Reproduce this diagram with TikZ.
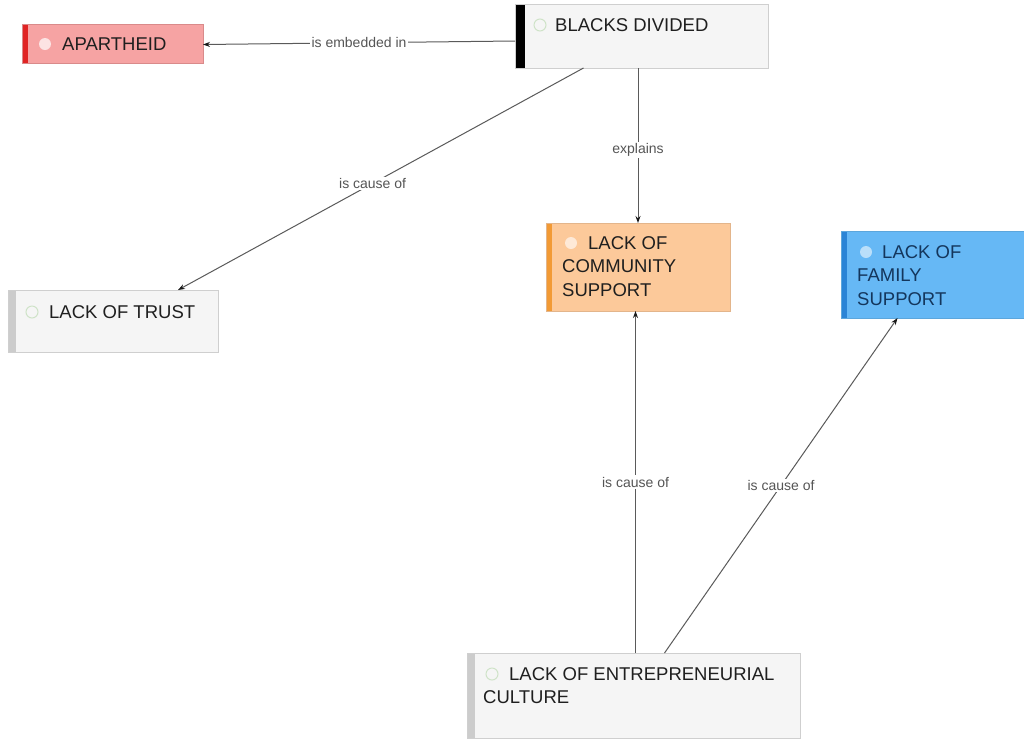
\documentclass[tikz,border=0pt]{standalone}
\usepackage{fontspec}
\setmainfont{Liberation Sans}
\usetikzlibrary{arrows.meta}
\definecolor{apfill}{HTML}{F6A3A3}
\definecolor{apbar}{HTML}{E02424}
\definecolor{apdraw}{HTML}{D98A8A}
\definecolor{cofill}{HTML}{FCC99A}
\definecolor{cobar}{HTML}{F29A35}
\definecolor{fafill}{HTML}{66B8F5}
\definecolor{fabar}{HTML}{2A84D6}
\definecolor{fatext}{HTML}{14365C}
\definecolor{grfill}{HTML}{F5F5F5}
\definecolor{grdraw}{HTML}{CFCFCF}
\definecolor{grbar}{HTML}{CCCCCC}
\definecolor{edgecol}{HTML}{5A5A5A}
\definecolor{tipcol}{HTML}{1A1A1A}
\definecolor{labcol}{HTML}{555555}
\definecolor{dotgreen}{HTML}{CFE3C8}
\begin{document}
\begin{tikzpicture}[x=1pt,y=-1pt,
  box/.style={anchor=north west,inner sep=0pt,outer sep=0pt,line width=1pt},
  bar/.style 2 args={path picture={\fill[#1] (path picture bounding box.north west) rectangle ([xshift=#2]path picture bounding box.south west);}},
  ntext/.style={inner sep=0pt,font=\fontsize{18.5}{23.5}\selectfont,align=left,text=black!88},
  dot/.style={circle,minimum size=12pt,inner sep=0pt},
  edge/.style={draw=edgecol,line width=1pt,-{Stealth[length=7pt,width=5pt,color=tipcol]}},
  elabel/.style={fill=white,inner sep=1.5pt,text=labcol,font=\fontsize{14}{16}\selectfont}]
\useasboundingbox (0,0) rectangle (1024,740);
\fill[white] (0,0) rectangle (1024,740);
% boxes
\node[box,fill=apfill,draw=apdraw,bar={apbar}{6pt},minimum width=181pt,minimum height=39pt] (ap) at (22,24) {};
\node[box,fill=grfill,draw=grdraw,bar={black}{10pt},minimum width=253pt,minimum height=64pt] (bd) at (515,4) {};
\node[box,fill=cofill,draw=cofill!90!black,bar={cobar}{6pt},minimum width=184pt,minimum height=88pt] (co) at (546,223) {};
\node[box,fill=fafill,draw=fafill!90!black,bar={fabar}{6pt},minimum width=183pt,minimum height=87pt] (fa) at (841,231) {};
\node[box,fill=grfill,draw=grdraw,bar={grbar}{8pt},minimum width=210pt,minimum height=62pt] (tr) at (8,290) {};
\node[box,fill=grfill,draw=grdraw,bar={grbar}{8pt},minimum width=333pt,minimum height=85pt] (en) at (467,653) {};
% dots
\node[dot,fill=white!70!apfill] (apdot) at (45,44) {};
\node[dot,draw=dotgreen,line width=1pt] (bddot) at (540,25) {};
\node[dot,fill=white!60!cofill] (codot) at (571,243) {};
\node[dot,fill=white!55!fafill] (fadot) at (866,252) {};
\node[dot,draw=dotgreen,line width=1pt] (trdot) at (32,312) {};
\node[dot,draw=dotgreen,line width=1pt] (endot) at (492,674) {};
% texts
\node[ntext,anchor=west] (aptext) at (62,44) {APARTHEID};
\node[ntext,anchor=west] (bdtext) at (555,25) {BLACKS DIVIDED};
\node[ntext,anchor=north west] (cotext) at (562,236) {\hspace*{26pt}LACK OF\\COMMUNITY\\SUPPORT};
\node[ntext,anchor=north west,text=fatext] (fatext) at (857,245) {\hspace*{25pt}LACK OF\\FAMILY\\SUPPORT};
\node[ntext,anchor=west] (trtext) at (49,312) {LACK OF TRUST};
\node[ntext,anchor=north west] (entext) at (483,667) {\hspace*{26pt}LACK OF ENTREPRENEURIAL\\CULTURE};
% edges
\draw[edge] ([yshift=-5pt]bd.west) -- node[elabel,pos=0.5] {is embedded in} ([yshift=-1pt]ap.east);
\draw[edge] ([xshift=-58pt]bd.south) -- node[elabel,pos=0.52] {is cause of} ([xshift=65pt]tr.north);
\draw[edge] (bd.south -| co.north) -- node[elabel,pos=0.53] {explains} (co.north);
\draw[edge] ([xshift=2pt]en.north) -- node[elabel,pos=0.5] {is cause of} ([xshift=2pt]en.north |- co.south);
\draw[edge] ([xshift=31pt]en.north) -- node[elabel,pos=0.5] {is cause of} ([xshift=-35pt]fa.south);
\end{tikzpicture}
\end{document}
